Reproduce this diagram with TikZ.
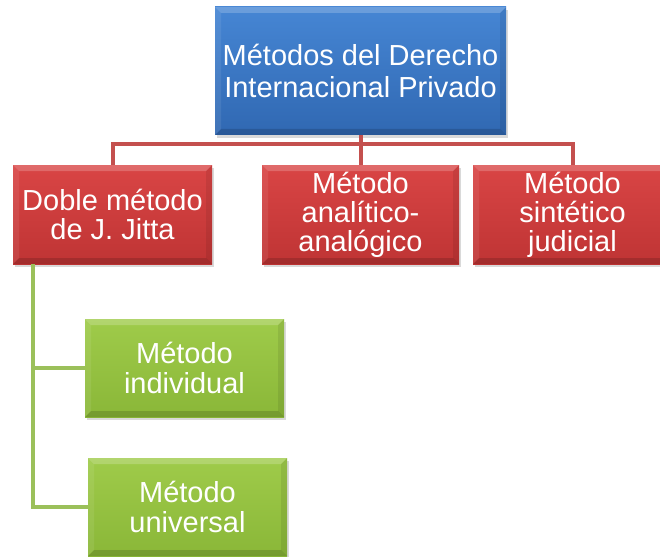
\documentclass[tikz,border=0pt]{standalone}
\usepackage{fontspec}
\setmainfont{Liberation Sans}
\usetikzlibrary{shadows}
\definecolor{bluetop}{HTML}{4686D4}
\definecolor{bluebot}{HTML}{3068B2}
\definecolor{redtop}{HTML}{D94545}
\definecolor{redbot}{HTML}{BF3434}
\definecolor{greentop}{HTML}{9FCB4A}
\definecolor{greenbot}{HTML}{8AB738}
\definecolor{redline}{HTML}{C4504E}
\definecolor{greenline}{HTML}{9BC05A}
\tikzset{
  bevel/.style={path picture={
    \coordinate (pnw) at (path picture bounding box.north west);
    \coordinate (pne) at (path picture bounding box.north east);
    \coordinate (psw) at (path picture bounding box.south west);
    \coordinate (pse) at (path picture bounding box.south east);
    \fill[white,opacity=.2] (pnw) -- (pne) -- ([shift={(-6pt,-6pt)}]pne) -- ([shift={(6pt,-6pt)}]pnw) -- cycle;
    \fill[white,opacity=.08] (pnw) -- ([shift={(6pt,-6pt)}]pnw) -- ([shift={(6pt,6pt)}]psw) -- (psw) -- cycle;
    \fill[black,opacity=.15] (psw) -- (pse) -- ([shift={(-6pt,6pt)}]pse) -- ([shift={(6pt,6pt)}]psw) -- cycle;
    \fill[black,opacity=.08] (pne) -- (pse) -- ([shift={(-6pt,6pt)}]pse) -- ([shift={(-6pt,-6pt)}]pne) -- cycle;
  }},
  box/.style={rectangle, inner sep=0pt, text=white, align=center, bevel,
    drop shadow={opacity=.3, shadow xshift=2pt, shadow yshift=-3pt}},
  bluebox/.style={box, top color=bluetop, bottom color=bluebot,
    minimum width=291pt, minimum height=128pt, font=\fontsize{29}{32}\selectfont},
  redbox/.style={box, top color=redtop, bottom color=redbot,
    minimum height=99pt, font=\fontsize{29}{29}\selectfont},
  greenbox/.style={box, top color=greentop, bottom color=greenbot,
    minimum width=199pt, minimum height=98pt, font=\fontsize{29}{30}\selectfont},
  redconn/.style={draw=redline, line width=4pt},
  greenconn/.style={draw=greenline, line width=4pt},
}
\begin{document}
\begin{tikzpicture}[x=1pt,y=-1pt]
\useasboundingbox (0,0) rectangle (660,556);
\node[bluebox] (top) at (360.5,71) {Métodos del Derecho\\Internacional Privado};
\node[redbox, minimum width=199pt] (red1) at (112.5,214.5) {Doble método\\de J. Jitta};
\node[redbox, minimum width=197pt] (red2) at (360.5,214.5) {Método\\analítico-\\analógico};
\node[redbox, minimum width=199pt] (red3) at (572.5,214.5) {Método\\sintético\\judicial};
\node[greenbox] (green1) at (184.5,368) {Método\\individual};
\node[greenbox] (green2) at (187.5,507) {Método\\universal};
\coordinate (hub) at (360.5,144);
\coordinate (gtop) at ([xshift=20pt]red1.south west);
\draw[redconn] (top.south) -- (red2.north);
\draw[redconn] (red1.north) -- (red1.north |- hub) -- (red3.north |- hub) -- (red3.north);
\draw[greenconn] (gtop) |- (green2.west);
\draw[greenconn] (gtop |- green1.west) -- (green1.west);
\end{tikzpicture}
\end{document}
